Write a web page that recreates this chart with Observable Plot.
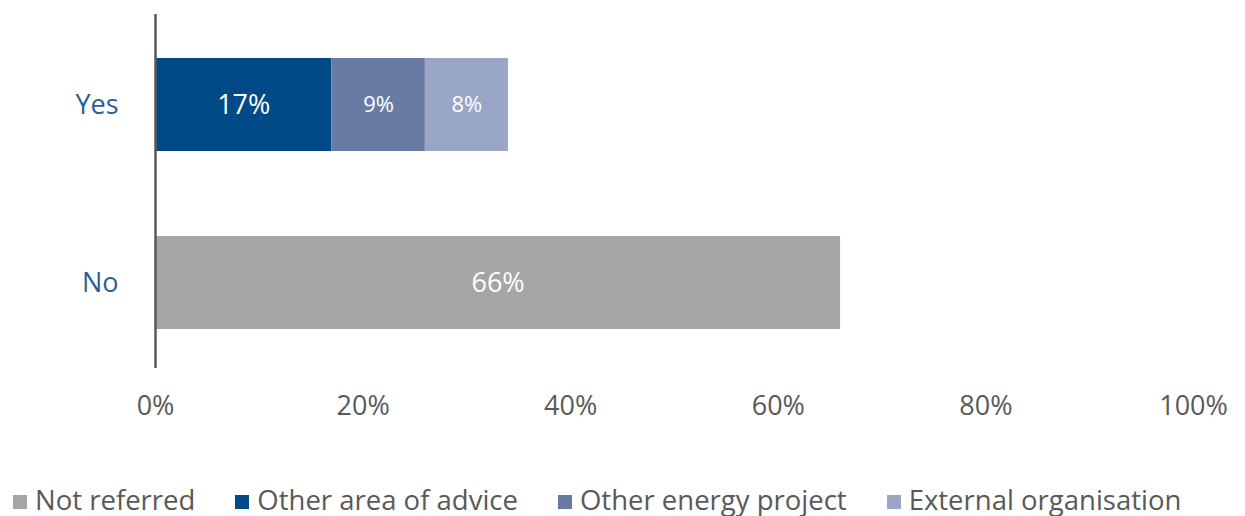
<!DOCTYPE html>
<html>
<head>
<meta charset="utf-8">
<script src="https://cdn.jsdelivr.net/npm/d3@7"></script>
<script src="https://cdn.jsdelivr.net/npm/@observablehq/plot@0.6"></script>
<style>
  html, body { margin: 0; padding: 0; background: #fff; }
  body { width: 1245px; height: 516px; overflow: hidden; font-family: "Open Sans", sans-serif; }
  #chart svg { display: block; }
  #legend { display: flex; justify-content: flex-start; gap: 40px; margin-top: 45px; height: 30px; line-height: 30px;
            font-size: 27.5px; color: #595959; padding-left: 13px; }
  .item { display: flex; align-items: center; white-space: nowrap; }
  .sw { width: 14px; height: 14px; margin-right: 8px; display: inline-block; position: relative; top: 2px; }
</style>
</head>
<body>
<div id="chart"></div>
<div id="legend"></div>
<script>
const categories = ["Yes", "No"];
const seriesNames = ["Not referred", "Other area of advice", "Other energy project", "External organisation"];
const seriesColors = ["#a5a5a5", "#004a87", "#687ba3", "#99a6c6"];
const yesValues = [0, 17, 9, 8];
const noValues = [66, 0, 0, 0];
const xTicks = [0, 20, 40, 60, 80, 100];

const valuesByCat = {Yes: yesValues, No: noValues};
const rows = [];
for (const c of categories) {
  seriesNames.forEach((s, i) => {
    const v = valuesByCat[c][i];
    if (v > 0) rows.push({cat: c, series: s, value: v});
  });
}

const stackOpts = {x: "value", y: "cat", z: "series", order: seriesNames};

const chart = Plot.plot({
  width: 1245,
  height: 440,
  marginLeft: 155,
  marginRight: 52,
  marginTop: 14,
  marginBottom: 72,
  style: {fontFamily: "'Open Sans', sans-serif", fontSize: "27px", background: "#fff"},
  x: {domain: [0, 100]},
  y: {domain: categories, paddingInner: 0.48, paddingOuter: 0.229, align: 0.53},
  color: {domain: seriesNames, range: seriesColors},
  marks: [
    Plot.barX(rows, Plot.stackX({...stackOpts, fill: "series"})),
    Plot.text(rows, Plot.stackX({...stackOpts, text: d => d.value + "%", fill: "white",
      fontSize: d => d.value >= 10 ? 27 : 22})),
    Plot.ruleX([0], {stroke: "#595959", strokeWidth: 2.5}),
    Plot.axisX({ticks: xTicks, tickSize: 0, tickPadding: 27, tickFormat: d => d + "%",
      fill: "#595959", fontSize: 27, label: null}),
    Plot.axisY({tickSize: 0, tickPadding: 37, fill: "#2a5f98", fontSize: 27, label: null})
  ]
});
document.getElementById("chart").appendChild(chart);

const legend = document.getElementById("legend");
seriesNames.forEach((s, i) => {
  const item = document.createElement("div");
  item.className = "item";
  const sw = document.createElement("span");
  sw.className = "sw";
  sw.style.background = seriesColors[i];
  item.appendChild(sw);
  item.appendChild(document.createTextNode(s));
  legend.appendChild(item);
});
</script>
</body>
</html>
